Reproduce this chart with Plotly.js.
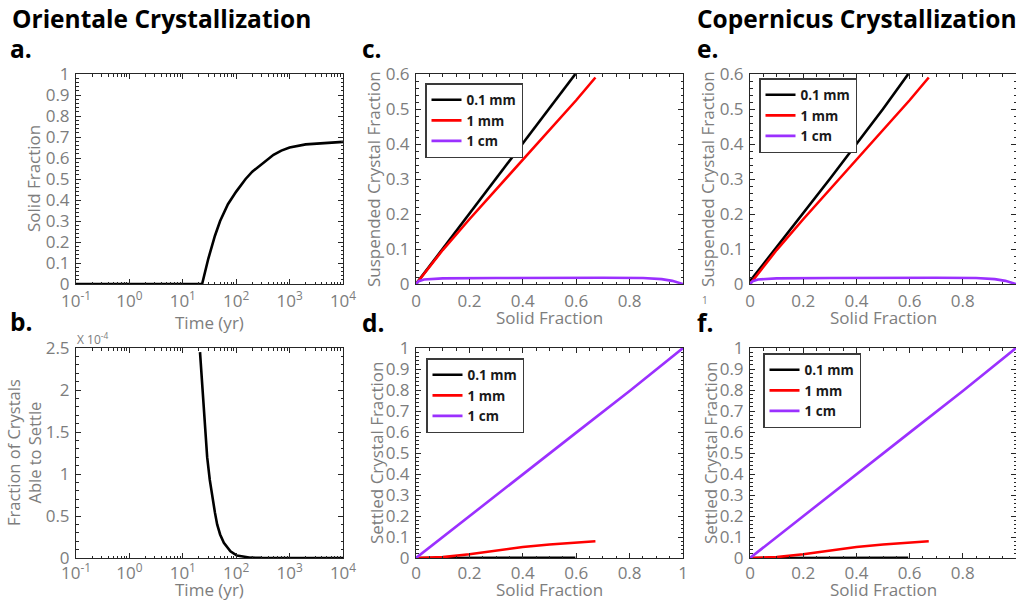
<!DOCTYPE html>
<html><head><meta charset="utf-8">
<script src="https://cdn.plot.ly/plotly-3.0.1.min.js"></script>
<style>html,body{margin:0;padding:0;background:#fff}#chart{width:1016px;height:601px}</style>
</head><body><div id="chart"></div>
<script>
// ---- Panel a: solid fraction vs time (Orientale)
const timeA  = [0.1, 1, 10, 23, 30, 40, 50, 70, 100, 150, 200, 300, 500, 700, 1000, 2000, 5000, 10000];
const solidA = [0, 0, 0, 0, 0.12, 0.23, 0.30, 0.38, 0.44, 0.50, 0.535, 0.57, 0.615, 0.635, 0.65, 0.665, 0.673, 0.677];
// ---- Panel b: fraction of crystals able to settle (x 10^-4)
const timeB   = [21, 23, 25, 28.6, 32, 35.5, 40, 44, 50, 58.7, 78, 103, 150, 186, 300, 1000, 10000];
const settleB = [2.45, 2.05, 1.7, 1.2, 0.93, 0.72, 0.54, 0.4, 0.28, 0.18, 0.08, 0.03, 0.01, 0.004, 0.001, 0, 0];
// ---- Panels c/d (Orientale)
const solidBlackC  = [0, 0.1, 0.2, 0.3, 0.4, 0.5, 0.597];
const suspBlackC   = [0, 0.1, 0.2, 0.3, 0.4, 0.5, 0.6];
const settBlackD   = [0, 0, 0.0005, 0.001, 0.001, 0.001, 0.001];
const solidRedC    = [0, 0.1, 0.2, 0.3, 0.4, 0.5, 0.6, 0.672];
const suspRedC     = [0, 0.097, 0.185, 0.27, 0.355, 0.44, 0.525, 0.59];
const settRedD     = [0, 0.004, 0.018, 0.036, 0.052, 0.064, 0.074, 0.08];
const solidPurpleC = [0, 0.01, 0.03, 0.06, 0.1, 0.3, 0.5, 0.7, 0.85, 0.92, 0.96, 0.99, 1.0];
const suspPurpleC  = [0, 0.008, 0.013, 0.015, 0.016, 0.017, 0.018, 0.018, 0.017, 0.014, 0.009, 0.003, 0];
const solidPurpleD = [0, 0.2, 0.4, 0.6, 0.8, 1.0];
const settPurpleD  = [0, 0.2, 0.397, 0.597, 0.795, 1.0];
// ---- Panels e/f (Copernicus)
const solidBlackE  = [0, 0.1, 0.2, 0.3, 0.4, 0.5, 0.595];
const suspBlackE   = [0.008, 0.105, 0.2, 0.3, 0.4, 0.5, 0.6];
const settBlackF   = [0, 0, 0.0005, 0.001, 0.001, 0.001, 0.001];
const solidRedE    = [0, 0.1, 0.2, 0.3, 0.4, 0.5, 0.6, 0.672];
const suspRedE     = [0, 0.097, 0.185, 0.27, 0.355, 0.44, 0.525, 0.59];
const settRedF     = [0, 0.004, 0.018, 0.036, 0.052, 0.064, 0.074, 0.08];
const solidPurpleE = [0, 0.01, 0.03, 0.06, 0.1, 0.3, 0.5, 0.7, 0.85, 0.92, 0.96, 0.99, 1.0];
const suspPurpleE  = [0, 0.008, 0.013, 0.015, 0.016, 0.017, 0.018, 0.018, 0.017, 0.014, 0.009, 0.003, 0];
const solidPurpleF = [0, 0.2, 0.4, 0.6, 0.8, 1.0];
const settPurpleF  = [0, 0.2, 0.397, 0.597, 0.795, 1.0];

const seriesNames = ['0.1 mm', '1 mm', '1 cm'];
const seriesColors = ['#000000', '#ff0000', '#9b30ff'];
const logTickVals = [0.1, 1, 10, 100, 1000, 10000];
const logTickText = ['10<sup>-1</sup>', '10<sup>0</sup>', '10<sup>1</sup>', '10<sup>2</sup>', '10<sup>3</sup>', '10<sup>4</sup>'];
const fracTickVals = [0, 0.2, 0.4, 0.6, 0.8];
const fracTickValsD = [0, 0.2, 0.4, 0.6, 0.8, 1];

const F = '"Open Sans", "DejaVu Sans", sans-serif';
const W = 1016, H = 601;
const px = v => v / W, py = v => 1 - v / H;

const logMinor = [];
for (let e = -1; e < 4; e++) for (let m = 2; m <= 9; m++) logMinor.push(m * Math.pow(10, e));

const GRAY = '#7d7d7d';
function ax(extra) {
  return Object.assign({
    showline: true, linecolor: '#262626', linewidth: 1, mirror: 'ticks',
    ticks: 'inside', ticklen: 5, tickwidth: 1, tickcolor: '#262626',
    showgrid: false, zeroline: false, fixedrange: true, automargin: false,
    tickfont: {family: F, size: 17, color: GRAY}
  }, extra);
}
const minLin = d => ({ticks: 'inside', ticklen: 2.5, tickcolor: '#262626', dtick: d, showgrid: false});
const minLog = {ticks: 'inside', ticklen: 2.5, tickcolor: '#262626', tickmode: 'array', tickvals: logMinor, showgrid: false};

const xA = [px(76), px(343)], xC = [px(416), px(683)], xE = [px(750), 1];
const yTop = [py(284), py(74)], yBot = [py(558), py(348)];

const lw = 2.6;
function tr(x, y, xa, ya, i, leg, show) {
  return {x: x, y: y, xaxis: xa, yaxis: ya, type: 'scatter', mode: 'lines', name: seriesNames[i],
    line: {color: seriesColors[i], width: lw}, legend: leg, showlegend: show};
}

const data = [
  {x: timeA, y: solidA, xaxis: 'x', yaxis: 'y', type: 'scatter', mode: 'lines', line: {color: '#000', width: lw}, showlegend: false},
  {x: timeB, y: settleB, xaxis: 'x2', yaxis: 'y2', type: 'scatter', mode: 'lines', line: {color: '#000', width: lw}, showlegend: false},
  tr(solidBlackC, suspBlackC, 'x3', 'y3', 0, 'legend', true),
  tr(solidRedC, suspRedC, 'x3', 'y3', 1, 'legend', true),
  tr(solidPurpleC, suspPurpleC, 'x3', 'y3', 2, 'legend', true),
  tr(solidBlackC, settBlackD, 'x4', 'y4', 0, 'legend2', true),
  tr(solidRedC, settRedD, 'x4', 'y4', 1, 'legend2', true),
  tr(solidPurpleD, settPurpleD, 'x4', 'y4', 2, 'legend2', true),
  tr(solidBlackE, suspBlackE, 'x5', 'y5', 0, 'legend3', true),
  tr(solidRedE, suspRedE, 'x5', 'y5', 1, 'legend3', true),
  tr(solidPurpleE, suspPurpleE, 'x5', 'y5', 2, 'legend3', true),
  tr(solidBlackE, settBlackF, 'x6', 'y6', 0, 'legend4', true),
  tr(solidRedE, settRedF, 'x6', 'y6', 1, 'legend4', true),
  tr(solidPurpleF, settPurpleF, 'x6', 'y6', 2, 'legend4', true)
];

function leg(x, y) {
  return {x: px(x), y: py(y), xanchor: 'left', yanchor: 'top', bgcolor: '#fff',
    bordercolor: '#3a3a3a', borderwidth: 1.5, itemwidth: 30, tracegroupgap: 0,
    font: {family: F, size: 13.5, color: '#1a1a1a', weight: 'bold'}};
}

function ann(text, x, y, size, opts) {
  return Object.assign({text: text, x: px(x), y: py(y), xref: 'paper', yref: 'paper', showarrow: false,
    xanchor: 'left', yanchor: 'middle', font: {family: F, size: size, color: '#000', weight: 'bold'}}, opts || {});
}
function atitle(text, x, y, rot, size) {
  return {text: text, x: px(x), y: py(y), xref: 'paper', yref: 'paper', showarrow: false,
    xanchor: 'center', yanchor: 'middle', textangle: rot ? -90 : 0,
    font: {family: F, size: size || 17, color: GRAY}};
}

const layout = {
  width: W, height: H, margin: {l: 0, r: 0, t: 0, b: 0},
  paper_bgcolor: '#fff', plot_bgcolor: '#fff', showlegend: true,
  xaxis: ax({domain: xA, anchor: 'y', type: 'log', range: [-1, 4], tickmode: 'array', tickvals: logTickVals, ticktext: logTickText, minor: minLog, ticklabelstandoff: 2}),
  yaxis: ax({domain: yTop, anchor: 'x', range: [0, 1], dtick: 0.1, minor: minLin(0.02), ticklabelstandoff: 2}),
  xaxis2: ax({domain: xA, anchor: 'y2', type: 'log', range: [-1, 4], tickmode: 'array', tickvals: logTickVals, ticktext: logTickText, minor: minLog, ticklabelstandoff: 0}),
  yaxis2: ax({domain: yBot, anchor: 'x2', range: [0, 2.5], dtick: 0.5, minor: minLin(0.1), ticklabelstandoff: 2}),
  xaxis3: ax({domain: xC, anchor: 'y3', range: [0, 1], tickmode: 'array', tickvals: fracTickVals, minor: minLin(0.05), ticklabelstandoff: 2}),
  yaxis3: ax({domain: yTop, anchor: 'x3', range: [0, 0.6], dtick: 0.1, minor: minLin(0.02), ticklabelstandoff: 2}),
  xaxis4: ax({domain: xC, anchor: 'y4', range: [0, 1], tickmode: 'array', tickvals: fracTickValsD, minor: minLin(0.05), ticklabelstandoff: 0}),
  yaxis4: ax({domain: yBot, anchor: 'x4', range: [0, 1], dtick: 0.1, minor: minLin(0.02), ticklabelstandoff: 2}),
  xaxis5: ax({domain: xE, anchor: 'y5', range: [0, 1], tickmode: 'array', tickvals: fracTickVals, minor: minLin(0.05), ticklabelstandoff: 2}),
  yaxis5: ax({domain: yTop, anchor: 'x5', range: [0, 0.6], dtick: 0.1, minor: minLin(0.02), ticklabelstandoff: 2}),
  xaxis6: ax({domain: xE, anchor: 'y6', range: [0, 1], tickmode: 'array', tickvals: fracTickVals, minor: minLin(0.05), ticklabelstandoff: 0}),
  yaxis6: ax({domain: yBot, anchor: 'x6', range: [0, 1], dtick: 0.1, minor: minLin(0.02), ticklabelstandoff: 2}),
  legend: leg(425, 83), legend2: leg(426, 358), legend3: leg(759, 78), legend4: leg(763, 353),
  annotations: [
    ann('Orientale Crystallization', 10, 19, 24.5),
    ann('a.', 8, 48, 24.5),
    ann('b.', 8, 321, 24.5),
    ann('c.', 360, 48, 24.5),
    ann('d.', 360, 322, 24.5),
    ann('Copernicus Crystallization', 695, 19, 24.5),
    ann('e.', 695, 48, 24.5),
    ann('f.', 695, 322, 24.5),
    ann('X 10<sup>-4</sup>', 75, 339, 12, {font: {family: F, size: 12, color: GRAY}}),
    ann('1', 700, 300, 10, {font: {family: F, size: 10, color: GRAY}}),
    atitle('Time (yr)', 209, 322),
    atitle('Time (yr)', 209, 589),
    atitle('Solid Fraction', 549, 317),
    atitle('Solid Fraction', 549, 589),
    atitle('Solid Fraction', 883, 317),
    atitle('Solid Fraction', 883, 589),
    atitle('Solid Fraction', 34, 179, true),
    atitle('Fraction of Crystals<br>Able to Settle', 24, 453, true, 16.5),
    atitle('Suspended Crystal Fraction', 374, 179, true),
    atitle('Settled Crystal Fraction', 376, 453, true),
    atitle('Suspended Crystal Fraction', 708, 179, true),
    atitle('Settled Crystal Fraction', 710, 453, true)
  ]
};

Plotly.newPlot('chart', data, layout, {staticPlot: true, displayModeBar: false});
</script></body></html>
